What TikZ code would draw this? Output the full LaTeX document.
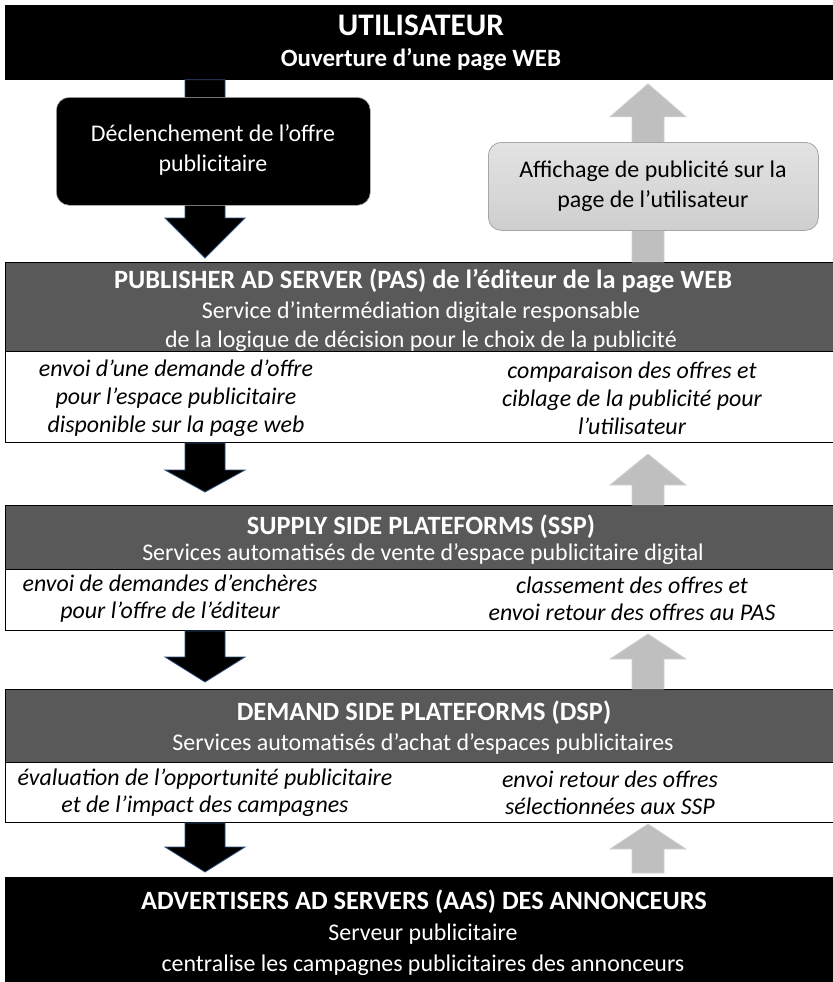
\documentclass[tikz,border=0pt]{standalone}
\usepackage{fontspec}
\setmainfont{Carlito}
\usetikzlibrary{calc}
\definecolor{hdr}{HTML}{595959}
\definecolor{garrow}{HTML}{BFBFBF}
\definecolor{garrowline}{HTML}{D0D0D0}
\definecolor{barrowline}{HTML}{2F4E7A}
\definecolor{gboxline}{HTML}{A6A6A6}
\newcommand\downblk[5]{% start, tip, shaft half, head half, head length
  \filldraw[blackarrow] let \p1=#1, \p2=#2 in
   (\x1-#3,\y1) -- (\x1+#3,\y1) -- (\x1+#3,\y2+#5) -- (\x1+#4,\y2+#5) -- (\x1,\y2)
   -- (\x1-#4,\y2+#5) -- (\x1-#3,\y2+#5) -- cycle;}
\newcommand\upblk[5]{% start (bottom), tip, shaft half, head half, head length
  \filldraw[greyarrow] let \p1=#1, \p2=#2 in
   (\x1-#3,\y1) -- (\x1+#3,\y1) -- (\x1+#3,\y2-#5) -- (\x1+#4,\y2-#5) -- (\x1,\y2)
   -- (\x1-#4,\y2-#5) -- (\x1-#3,\y2-#5) -- cycle;}
\begin{document}
\begin{tikzpicture}[x=1bp,y=-1bp,
  blackbar/.style={fill=black,draw=black,line width=0.8bp,minimum width=828bp,anchor=north west,inner sep=0pt},
  panel/.style={fill=white,draw=black,line width=1bp,minimum width=828bp,anchor=north west,inner sep=0pt},
  hdrbox/.style={fill=hdr,draw=black,line width=1bp,minimum width=828bp,anchor=north west,inner sep=0pt},
  blackarrow/.style={fill=black,draw=barrowline,line width=0.8bp},
  greyarrow/.style={fill=garrow,draw=garrowline,line width=0.8bp},
  wtitle/.style={text=white,font=\bfseries\fontsize{26.5}{30}\selectfont,inner sep=0pt},
  wtext/.style={text=white,font=\fontsize{24}{29}\selectfont,align=center,inner sep=0pt},
  itext/.style={text=black,font=\itshape\fontsize{24}{28}\selectfont,align=center,inner sep=0pt},
  blkround/.style={fill=black,draw=gray!60,line width=0.6bp,rounded corners=13bp,anchor=north west,inner sep=0pt},
  greyround/.style={top color=gray!22,bottom color=gray!38,draw=gboxline,line width=0.8bp,rounded corners=13bp,anchor=north west,inner sep=0pt}
]
\useasboundingbox (0,0) rectangle (833,982);
% main bars
\node[blackbar,minimum height=74bp] (user) at (5,5) {};
\node[panel,minimum height=180bp] (pas) at (5,262) {};
\node[hdrbox,minimum height=89bp] (pash) at (5,262) {};
\node[panel,minimum height=125bp] (ssp) at (5,505) {};
\node[hdrbox,minimum height=64bp] (ssph) at (5,505) {};
\node[panel,minimum height=133bp] (dsp) at (5,689) {};
\node[hdrbox,minimum height=73bp] (dsph) at (5,689) {};
\node[blackbar,minimum height=106bp] (aas) at (5,877) {};
% arrow axes
\coordinate (ax) at (205,0);
\coordinate (gx) at (648,0);
% top arrows
\downblk{(ax |- user.south)}{([yshift=4bp]ax |- pas.north)}{20bp}{40bp}{40bp}
\upblk{(gx |- pas.north)}{([yshift=-4bp]gx |- user.south)}{16bp}{38bp}{33bp}
% rounded boxes
\node[blkround,minimum width=314bp,minimum height=108bp] (trig) at (56,97) {};
\node[greyround,minimum width=330bp,minimum height=88bp] (disp) at (488,142) {};
% arrows between panels
\downblk{(ax |- pas.south)}{([yshift=13bp]ax |- ssp.north)}{20bp}{40bp}{22bp}
\upblk{(gx |- ssp.north)}{([yshift=-11bp]gx |- pas.south)}{16bp}{38bp}{31bp}
\downblk{(ax |- ssp.south)}{([yshift=7bp]ax |- dsp.north)}{20bp}{40bp}{25bp}
\upblk{(gx |- dsp.north)}{([yshift=-3bp]gx |- ssp.south)}{16bp}{38bp}{25bp}
\downblk{(ax |- dsp.south)}{([yshift=5bp]ax |- aas.north)}{20bp}{40bp}{25bp}
\upblk{([yshift=4bp]gx |- aas.north)}{([yshift=-1bp]gx |- dsp.south)}{16bp}{38bp}{25bp}
% texts
\node[wtitle,font=\bfseries\fontsize{31.5}{35}\selectfont] (t-user) at (421,25) {UTILISATEUR};
\node[wtext,font=\bfseries\fontsize{25}{29}\selectfont] (t-user2) at (421,60) {Ouverture d’une page WEB};
\node[wtext,font=\fontsize{24}{30}\selectfont] (t-trig) at (213,150) {Déclenchement de l’offre\\publicitaire};
\node[wtext,text=black,font=\fontsize{24}{30}\selectfont] (t-disp) at (653,186) {Affichage de publicité sur la\\page de l’utilisateur};
\node[wtitle] (t-pas) at (423,281) {PUBLISHER AD SERVER (PAS) de l’éditeur de la page WEB};
\node[wtext,font=\fontsize{24}{29}\selectfont] (t-pas2) at (421,327) {Service d’intermédiation digitale responsable\\de la logique de décision pour le choix de la publicité};
\node[itext] (t-pasl) at (176,398) {envoi d'une demande d'offre\\pour l'espace publicitaire\\disponible sur la page web};
\node[itext] (t-pasr) at (632,398) {comparaison des offres et\\ciblage de la publicité pour\\l’utilisateur};
\node[wtitle] (t-ssp) at (421,527) {SUPPLY SIDE PLATEFORMS (SSP)};
\node[wtext] (t-ssp2) at (423,554) {Services automatisés de vente d’espace publicitaire digital};
\node[itext,font=\itshape\fontsize{24}{27}\selectfont] (t-sspl) at (170,599) {envoi de demandes d’enchères\\pour l’offre de l’éditeur};
\node[itext,font=\itshape\fontsize{24}{27}\selectfont] (t-sspr) at (632,599) {classement des offres et\\envoi retour des offres au PAS};
\node[wtitle] (t-dsp) at (424,713) {DEMAND SIDE PLATEFORMS (DSP)};
\node[wtext] (t-dsp2) at (423,744) {Services automatisés d’achat d’espaces publicitaires};
\node[itext,font=\itshape\fontsize{24}{27}\selectfont] (t-dspl) at (205,793) {évaluation de l'opportunité publicitaire\\et de l’impact des campagnes};
\node[itext,font=\itshape\fontsize{24}{27}\selectfont] (t-dspr) at (610,793) {envoi retour des offres\\sélectionnées aux SSP};
\node[wtitle] (t-aas) at (424,902) {ADVERTISERS AD SERVERS (AAS) DES ANNONCEURS};
\node[wtext,font=\fontsize{24}{31}\selectfont] (t-aas2) at (423,950) {Serveur publicitaire\\centralise les campagnes publicitaires des annonceurs};
\end{tikzpicture}
\end{document}
